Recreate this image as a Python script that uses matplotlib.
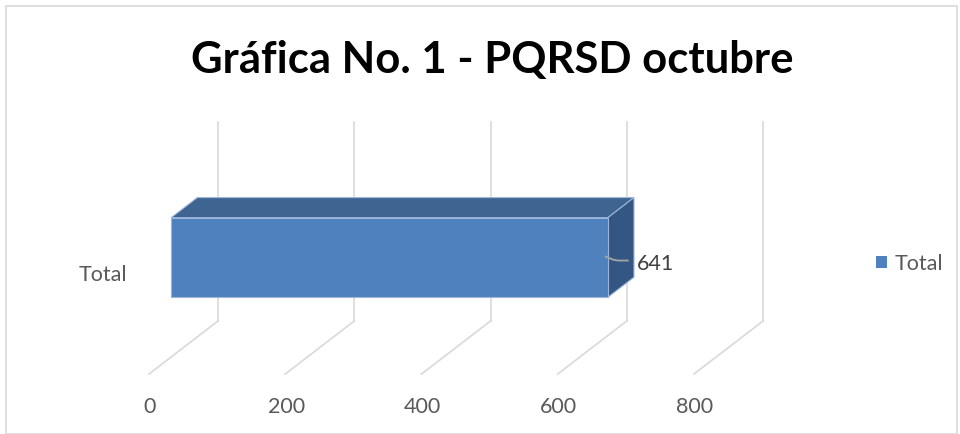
import matplotlib.pyplot as plt
from matplotlib.patches import Polygon, Rectangle
from matplotlib.transforms import offset_copy, IdentityTransform

# datos
categorias = ["Total"]
valores = [641]
ticks = [0, 200, 400, 600, 800]
titulo = "Gráfica No. 1 - PQRSD octubre"

plt.rcParams['font.family'] = ['Lato', 'DejaVu Sans']

W, H = 960, 435
fig = plt.figure(figsize=(W / 100, H / 100), dpi=100)

# pared del fondo (eje principal)
ax_l, ax_r, ax_t, ax_b = 218, 763, 123, 322
ax = fig.add_axes([ax_l / W, 1 - ax_b / H, (ax_r - ax_l) / W, (ax_b - ax_t) / H])
ax.set_xlim(ticks[0], ticks[-1])
ax.set_ylim(0, 1)
ax.axis('off')

# proyeccion oblicua: profundidad 1 = borde frontal del piso
DX = 69 / (ax_r - ax_l) * (ticks[-1] - ticks[0])
DY = 53 / (ax_b - ax_t)


def proj(v, y, d):
    return (v - d * DX, y - d * DY)


def desplazado(dx, dy):
    # desplazamiento en pixeles sobre transData
    return offset_copy(ax.transData, fig=fig, x=dx, y=dy, units='dots')


# cuadricula: pared del fondo + piso
gris = '#d9d9d9'
for t in ticks:
    ax.plot([t, t], [0, 1], color=gris, lw=1.2, clip_on=False, zorder=1)
    x0, y0 = proj(t, 0, 0)
    x1, y1 = proj(t, 0, 1)
    ax.plot([x0, x1], [y0, y1], color=gris, lw=1.2, clip_on=False, zorder=1)
    ax.text(x1, y1, f"{t}", ha='center', va='center', fontsize=15.5,
            color='#595959', transform=desplazado(1, -32))

# barra 3D
d_back, d_front = 0.30, 0.68
y_lo, y_hi = 0.30, 0.70
for cat, v in zip(categorias, valores):
    frente = [proj(0, y_lo, d_front), proj(v, y_lo, d_front),
              proj(v, y_hi, d_front), proj(0, y_hi, d_front)]
    techo = [proj(0, y_hi, d_front), proj(v, y_hi, d_front),
             proj(v, y_hi, d_back), proj(0, y_hi, d_back)]
    lado = [proj(v, y_lo, d_front), proj(v, y_lo, d_back),
            proj(v, y_hi, d_back), proj(v, y_hi, d_front)]
    for pts, c in [(techo, '#3e6491'), (lado, '#335683'), (frente, '#4e81bd')]:
        ax.add_patch(Polygon(pts, closed=True, facecolor=c,
                             edgecolor='#9db5d9', lw=0.8, clip_on=False,
                             zorder=3))

    # etiqueta de datos con linea guia
    ym = (y_lo + y_hi) / 2
    xa, ya = proj(v, ym, d_front)
    px, py = ax.transData.transform((xa, ya))
    gx = [px - 2, px + 5, px + 10, px + 20]
    gy = [py + 1, py - 2, py - 3, py - 3]
    ax.plot(gx, gy, color='#a6a6a6', lw=1.3, transform=IdentityTransform(),
            zorder=4)
    ax.text(xa, ya, f"{v}", ha='left', va='center', fontsize=15.5,
            color='#404040', transform=desplazado(29, -5))

    # etiqueta de categoria
    xc, yc = proj(0, 0.5, 1)
    ax.text(xc, yc, cat, ha='right', va='center', fontsize=15.5,
            color='#595959', transform=desplazado(-22, 0))

# titulo
fig.text(492 / W, 1 - 60 / H, titulo, ha='center', va='center',
         fontsize=31.4, fontweight='bold', color='black')

# leyenda
fig.patches.append(Rectangle((876 / W, 1 - 269 / H), 11 / W, 12 / H,
                             transform=fig.transFigure, facecolor='#4e81bd',
                             edgecolor='none'))
fig.text(895 / W, 1 - 264 / H, "Total", ha='left', va='center', fontsize=15.5,
         color='#595959')

# marco del area del grafico
fig.patches.append(Rectangle((6 / W, 0), 951 / W, 1 - 7 / H,
                             transform=fig.transFigure, facecolor='none',
                             edgecolor='#d9d9d9', lw=1.2))

fig.savefig("out.png", dpi=100)
